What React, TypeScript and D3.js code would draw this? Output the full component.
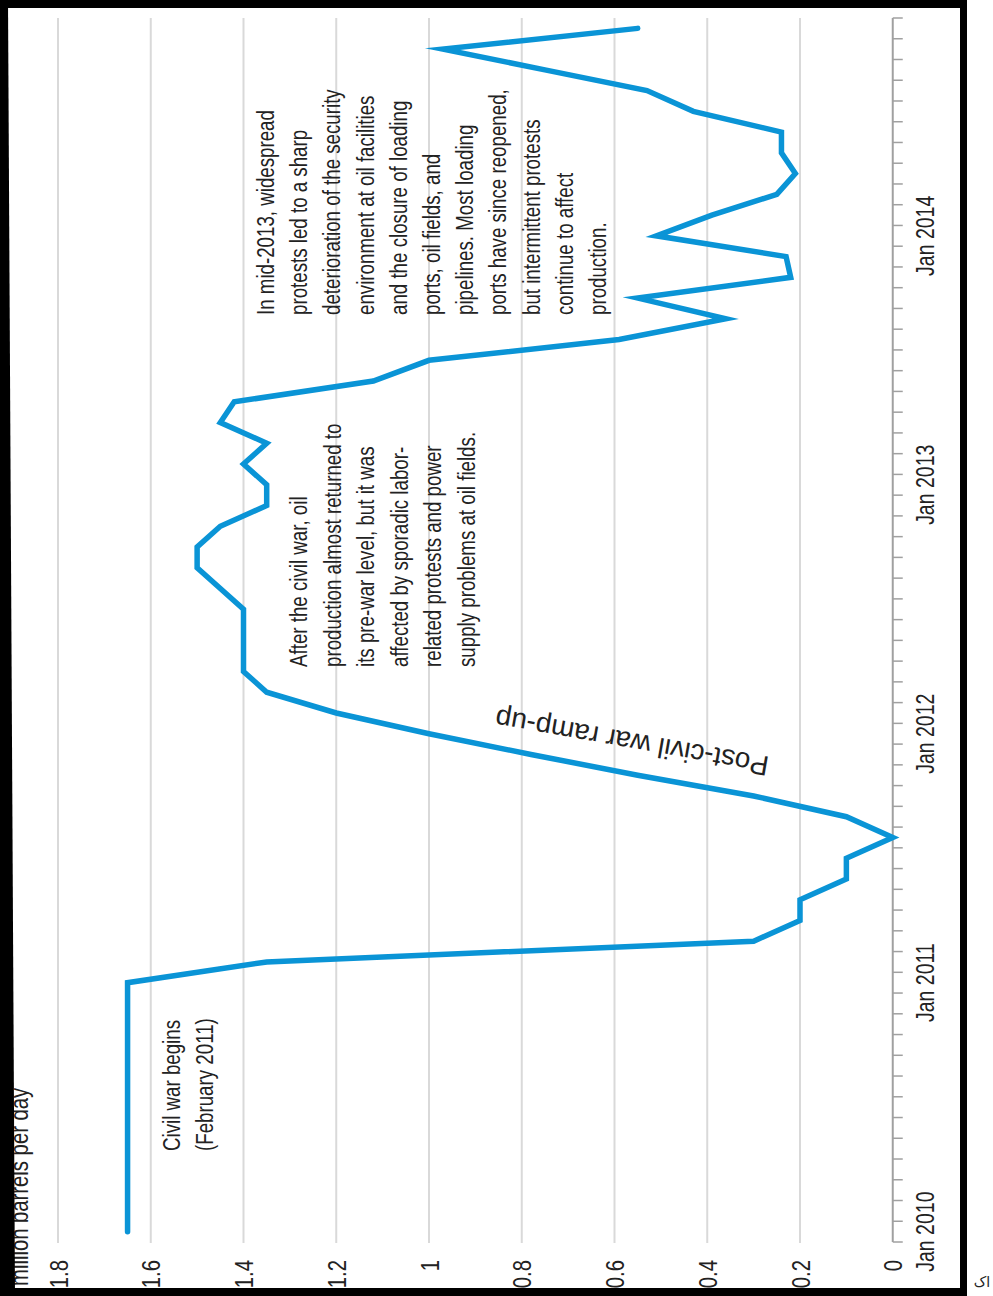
import React from "react";
import * as d3 from "d3";

// ---- data ----
const monthLabels = [
  "2010-01","2010-02","2010-03","2010-04","2010-05","2010-06","2010-07","2010-08","2010-09","2010-10","2010-11","2010-12",
  "2011-01","2011-02","2011-03","2011-04","2011-05","2011-06","2011-07","2011-08","2011-09","2011-10","2011-11","2011-12",
  "2012-01","2012-02","2012-03","2012-04","2012-05","2012-06","2012-07","2012-08","2012-09","2012-10","2012-11","2012-12",
  "2013-01","2013-02","2013-03","2013-04","2013-05","2013-06","2013-07","2013-08","2013-09","2013-10","2013-11","2013-12",
  "2014-01","2014-02","2014-03","2014-04","2014-05","2014-06","2014-07","2014-08","2014-09","2014-10","2014-11",
];
const production = [
  1.65,1.65,1.65,1.65,1.65,1.65,1.65,1.65,1.65,1.65,1.65,1.65,
  1.65,1.35,0.30,0.20,0.20,0.10,0.10,0.00,0.10,0.30,0.55,0.78,
  1.00,1.20,1.35,1.40,1.40,1.40,1.40,1.45,1.50,1.50,1.45,1.35,
  1.35,1.40,1.35,1.45,1.42,1.12,1.00,0.59,0.36,0.55,0.22,0.23,
  0.51,0.39,0.25,0.21,0.24,0.24,0.43,0.53,0.75,0.97,0.55,
];
const valueTicks = [0, 0.2, 0.4, 0.6, 0.8, 1, 1.2, 1.4, 1.6, 1.8];
const valueTickLabels = ["0", "0.2", "0.4", "0.6", "0.8", "1", "1.2", "1.4", "1.6", "1.8"];
const yearLabels = ["Jan 2010", "Jan 2011", "Jan 2012", "Jan 2013", "Jan 2014"];
const yearMonths = ["2010-01", "2011-01", "2012-01", "2013-01", "2014-01"];
const unitLabel = "million barrels per day";
const noteCivilWar = ["Civil war begins", "(February 2011)"];
const noteAfter = [
  "After the civil war, oil",
  "production almost returned to",
  "its pre-war level, but it was",
  "affected by sporadic labor-",
  "related protests and power",
  "supply problems at oil fields.",
];
const noteMid2013 = [
  "In mid-2013, widespread",
  "protests led to a sharp",
  "deterioration of the security",
  "environment at oil facilities",
  "and the closure of loading",
  "ports, oil fields, and",
  "pipelines. Most loading",
  "ports have since reopened,",
  "but intermittent protests",
  "continue to affect",
  "production.",
];
const rampLabel = "Post-civil war ramp-up";
const cornerMark = "اک";

const FONT = "'Liberation Sans', Arial, sans-serif";
const TXT = "#222";
const NARROW = 0.78;

export default function App() {
  const W = 993;
  const H = 1296;
  const nMonths = monthLabels.length; // 59
  const v = d3.scaleLinear().domain([0, 1.8]).range([892.75, 58]);
  const t = d3.scaleLinear().domain([0, nMonths]).range([1242, 18]);
  const mid = (label: string) => monthLabels.indexOf(label) + 0.5;

  const line = d3
    .line<number>()
    .x((d) => v(d))
    .y((_d, i) => t(i + 0.5));

  const gridTop = t(nMonths);
  const gridBottom = 1243;
  const axisX = v(0);
  const monthTicks = d3.range(nMonths + 1);

  const vText = (
    key: string,
    x: number,
    y: number,
    s: string,
    size: number,
    anchor: string,
    scale = NARROW
  ) => (
    <text
      key={key}
      transform={`translate(${x},${y}) rotate(-90) scale(${scale},1)`}
      fontFamily={FONT}
      fontSize={size}
      fill={TXT}
      textAnchor={anchor}
    >
      {s}
    </text>
  );

  return (
    <svg
      width={W}
      height={H}
      style={{ position: "absolute", left: 0, top: 0, background: "#fff" }}
      xmlns="http://www.w3.org/2000/svg"
    >
      <rect x={0} y={0} width={W} height={H} fill="#fff" />
      {/* gridlines */}
      {valueTicks
        .filter((d) => d > 0)
        .map((d) => (
          <line
            key={"g" + d}
            x1={v(d)}
            x2={v(d)}
            y1={gridTop}
            y2={gridBottom}
            stroke="#d9d9d9"
            strokeWidth={2}
          />
        ))}
      {/* time axis */}
      <line x1={axisX} x2={axisX} y1={gridTop} y2={t(0)} stroke="#a0a0a0" strokeWidth={2} />
      {monthTicks.map((m) => (
        <line
          key={"mt" + m}
          x1={axisX}
          x2={axisX + 10}
          y1={t(m)}
          y2={t(m)}
          stroke="#a0a0a0"
          strokeWidth={1.5}
        />
      ))}
      {yearLabels.map((s, i) => vText("yl" + i, 934, t(mid(yearMonths[i])), s, 25, "middle"))}
      {/* value tick labels */}
      {valueTicks.map((d, i) => vText("vl" + i, v(d) + 9.5, 1260, valueTickLabels[i], 26, "end"))}
      {/* unit label */}
      {vText("unit", 28, 1286, unitLabel, 26, "start")}
      {/* data line */}
      <path
        d={line(production) || ""}
        fill="none"
        stroke="#0a94d6"
        strokeWidth={5.5}
        strokeLinejoin="miter"
        strokeMiterlimit={10}
        strokeLinecap="round"
      />
      {/* annotations */}
      {noteCivilWar.map((s, i) => vText("cw" + i, 180 + i * 33, 1151, s, 24, "start"))}
      {noteAfter.map((s, i) => vText("af" + i, 307 + i * 33.6, 667, s, 24, "start"))}
      {noteMid2013.map((s, i) => vText("md" + i, 274 + i * 33.2, 315, s, 24, "start"))}
      <text
        transform={`translate(770,757) rotate(190)`}
        fontFamily={FONT}
        fontSize={28}
        fill={TXT}
      >
        {rampLabel}
      </text>
      {/* frame */}
      <rect x={0} y={0} width={967} height={8} fill="#000" />
      <rect x={960} y={0} width={7} height={H} fill="#000" />
      <rect x={0} y={1288} width={967} height={8} fill="#000" />
      <polygon points={`0,0 8,0 15,${H} 0,${H}`} fill="#000" />
      <text
        x={982}
        y={1287}
        fontFamily="'DejaVu Sans', sans-serif"
        fontSize={14}
        fill="#222"
        textAnchor="middle"
      >
        {cornerMark}
      </text>
    </svg>
  );
}
